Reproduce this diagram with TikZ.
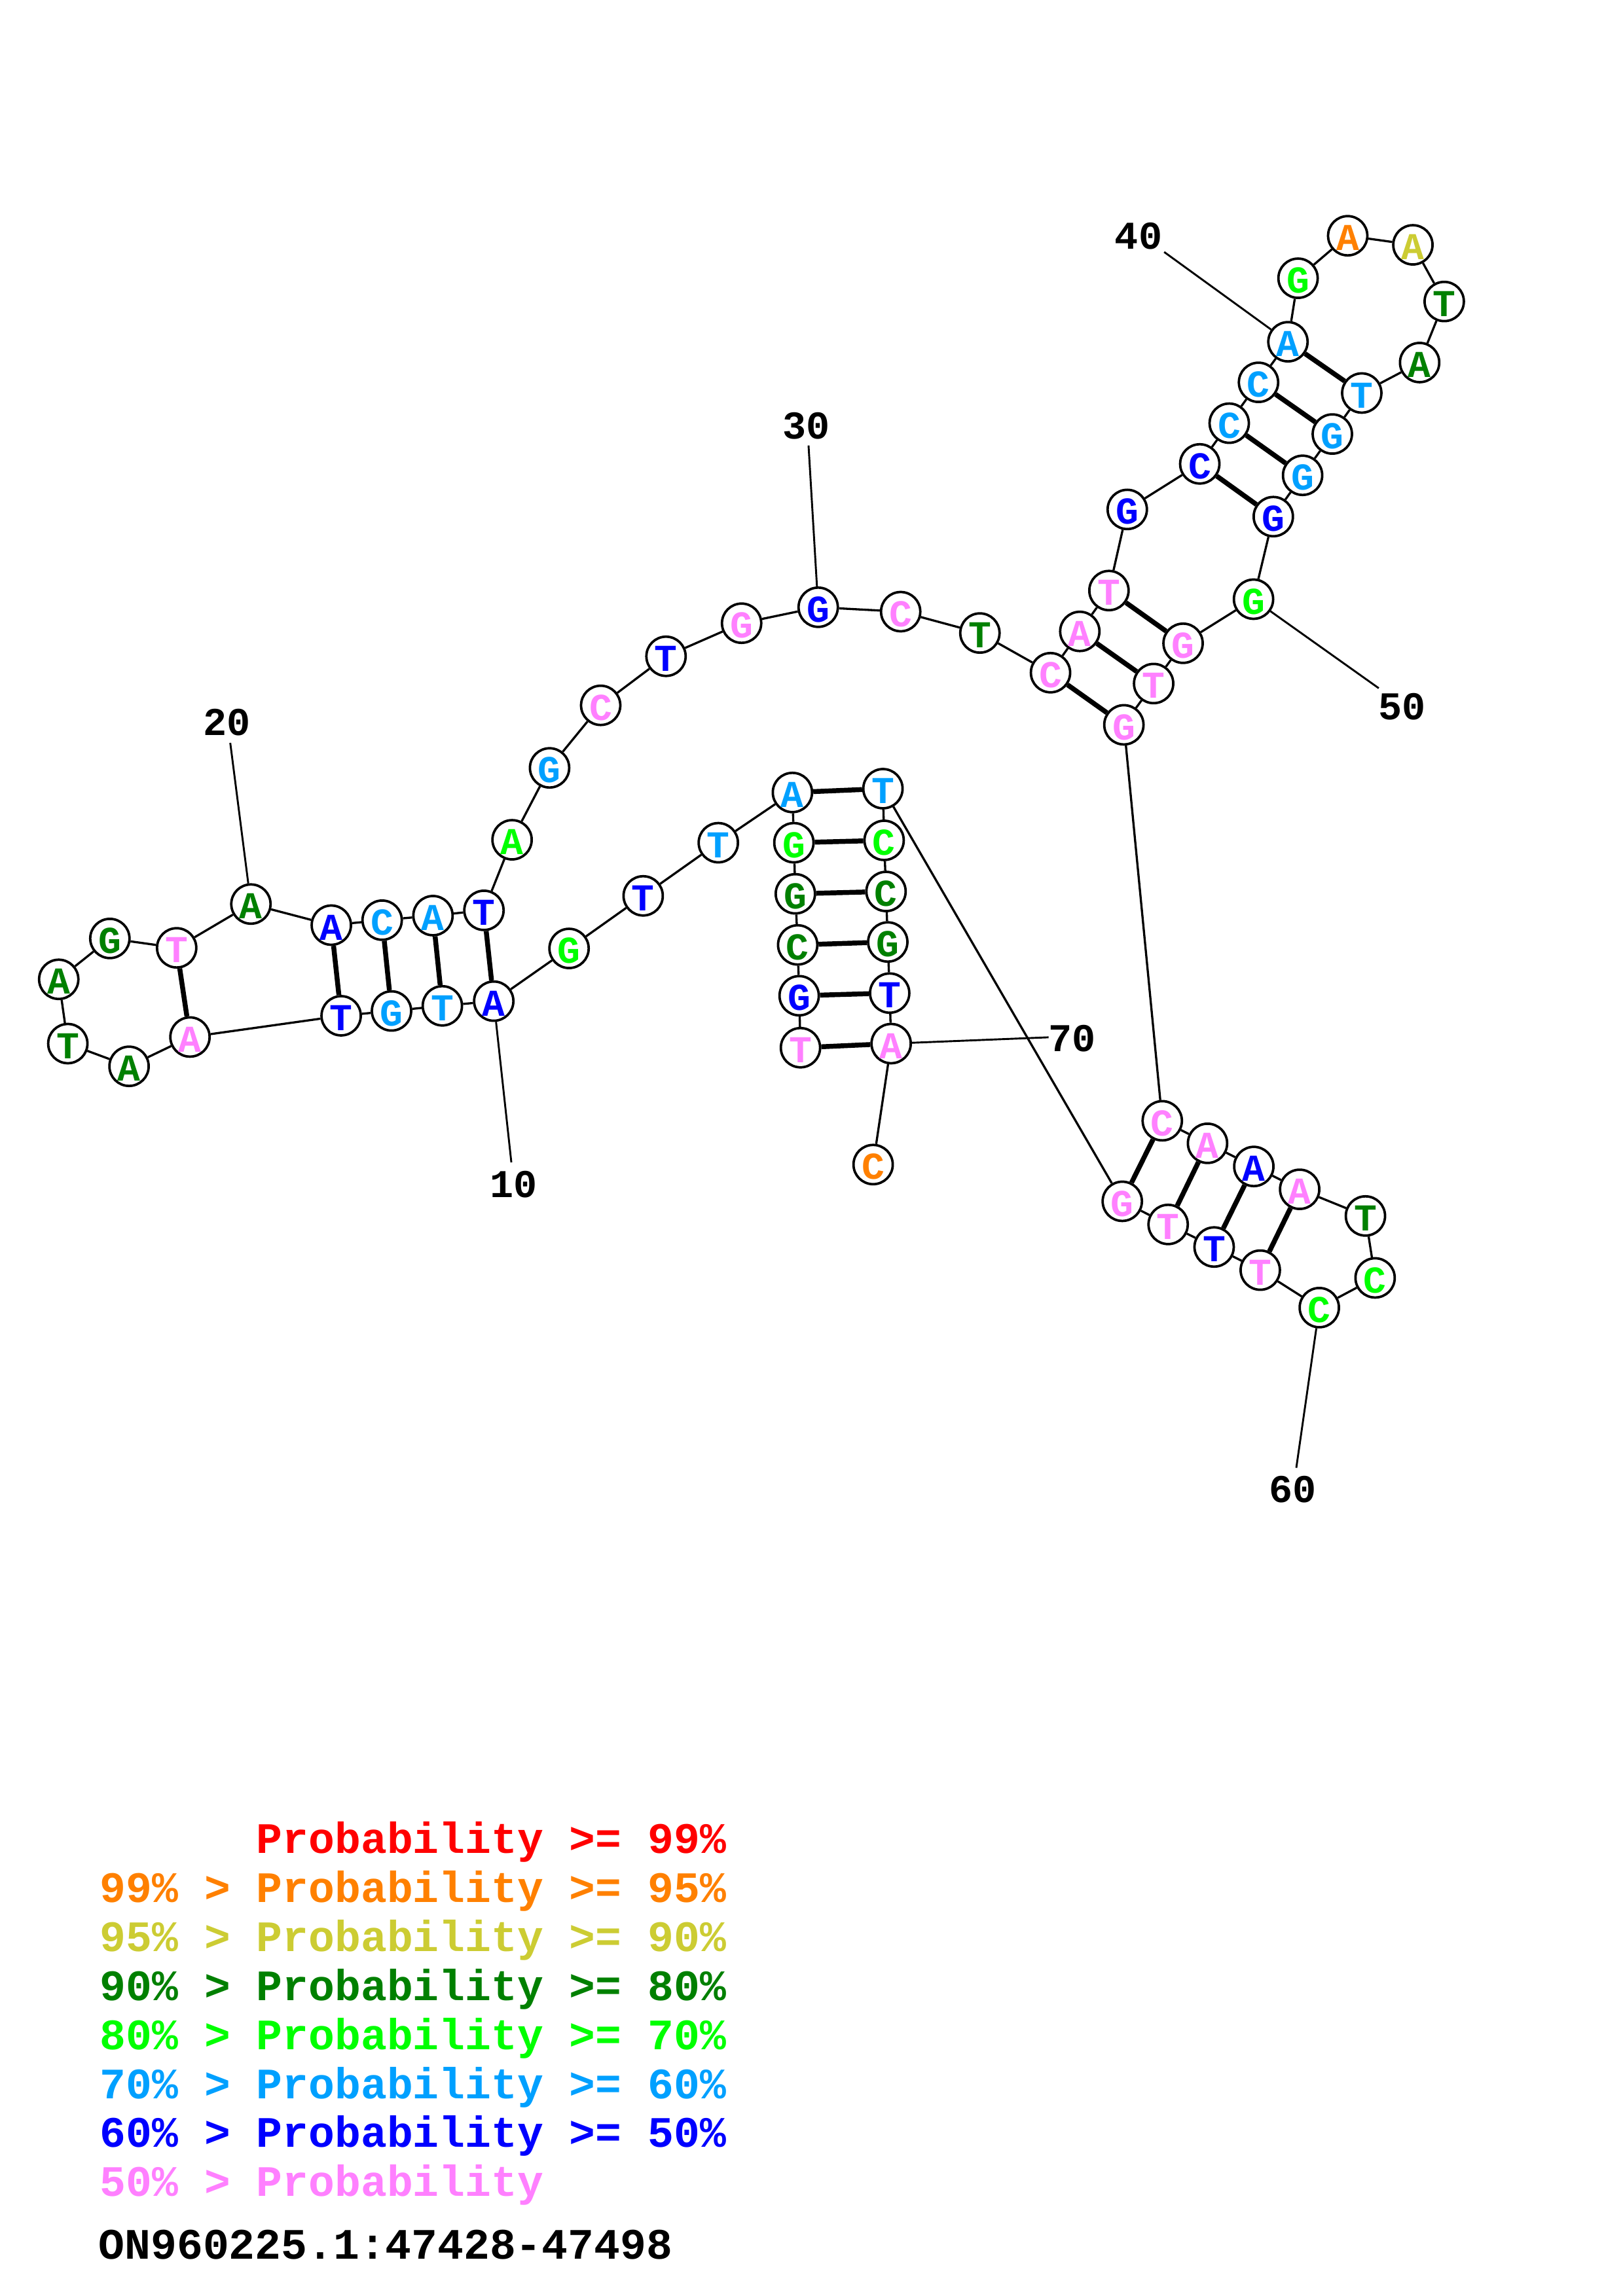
\documentclass[tikz,border=0pt]{standalone}
\usepackage{fontspec}
\setmonofont{Liberation Mono}
\definecolor{cRed}{HTML}{FF0000}
\definecolor{cOrange}{HTML}{FF8000}
\definecolor{cYellow}{HTML}{CCCC33}
\definecolor{cDkGreen}{HTML}{008000}
\definecolor{cGreen}{HTML}{00FF00}
\definecolor{cLtBlue}{HTML}{00A0FF}
\definecolor{cBlue}{HTML}{0000FF}
\definecolor{cPink}{HTML}{FF80FF}
\begin{document}
\begin{tikzpicture}[x=0.18953mm,y=-0.18953mm,
  nt/.style={circle,draw=black,line width=0.9pt,fill=white,minimum size=5.08mm,inner sep=0pt,
    text height=10.9pt,text depth=0pt,font=\fontsize{14}{14}\selectfont\ttfamily\bfseries},
  bb/.style={line width=0.8pt},
  bp/.style={line width=1.8pt},
  tick/.style={line width=0.7pt},
  num/.style={inner sep=0pt,font=\fontsize{14.5}{14.5}\selectfont\ttfamily\bfseries},
  leg/.style={anchor=base west,inner sep=0pt,font=\fontsize{16}{16}\selectfont\ttfamily\bfseries}]
\useasboundingbox (0,0) rectangle (1108,1568);
% nucleotides
\node[nt,text=cPink]    (n1)  at (546.5,715.5) {T};
\node[nt,text=cBlue]    (n2)  at (545.6,680.0) {G};
\node[nt,text=cDkGreen] (n3)  at (544.6,645.3) {C};
\node[nt,text=cDkGreen] (n4)  at (543.0,610.4) {G};
\node[nt,text=cGreen]   (n5)  at (542.0,575.5) {G};
\node[nt,text=cLtBlue]  (n6)  at (541.0,541.2) {A};
\node[nt,text=cLtBlue]  (n7)  at (490.4,575.5) {T};
\node[nt,text=cBlue]    (n8)  at (439.1,611.8) {T};
\node[nt,text=cGreen]   (n9)  at (388.5,647.7) {G};
\node[nt,text=cBlue]    (n10) at (337.1,683.7) {A};
\node[nt,text=cLtBlue]  (n11) at (302.0,686.9) {T};
\node[nt,text=cLtBlue]  (n12) at (267.3,690.4) {G};
\node[nt,text=cBlue]    (n13) at (232.9,693.7) {T};
\node[nt,text=cPink]    (n14) at (129.7,708.2) {A};
\node[nt,text=cDkGreen] (n15) at (88.1,728.2) {A};
\node[nt,text=cDkGreen] (n16) at (46.3,712.7) {T};
\node[nt,text=cDkGreen] (n17) at (40.1,668.8) {A};
\node[nt,text=cDkGreen] (n18) at (75.0,640.9) {G};
\node[nt,text=cPink]    (n19) at (120.6,647.3) {T};
\node[nt,text=cDkGreen] (n20) at (171.3,617.4) {A};
\node[nt,text=cBlue]    (n21) at (226.2,631.8) {A};
\node[nt,text=cLtBlue]  (n22) at (260.9,628.4) {C};
\node[nt,text=cLtBlue]  (n23) at (295.6,625.3) {A};
\node[nt,text=cBlue]    (n24) at (330.4,621.7) {T};
\node[nt,text=cGreen]   (n25) at (349.6,573.5) {A};
\node[nt,text=cLtBlue]  (n26) at (375.2,524.4) {G};
\node[nt,text=cPink]    (n27) at (410.1,481.7) {C};
\node[nt,text=cBlue]    (n28) at (454.7,448.2) {T};
\node[nt,text=cPink]    (n29) at (506.3,425.6) {G};
\node[nt,text=cBlue]    (n30) at (558.6,414.7) {G};
\node[nt,text=cPink]    (n31) at (614.9,417.7) {C};
\node[nt,text=cDkGreen] (n32) at (669.0,432.3) {T};
\node[nt,text=cPink]    (n33) at (717.2,459.4) {C};
\node[nt,text=cPink]    (n34) at (737.2,431.2) {A};
\node[nt,text=cPink]    (n35) at (757.1,403.3) {T};
\node[nt,text=cBlue]    (n36) at (769.6,347.9) {G};
\node[nt,text=cBlue]    (n37) at (819.1,316.8) {C};
\node[nt,text=cLtBlue]  (n38) at (839.2,289.0) {C};
\node[nt,text=cLtBlue]  (n39) at (859.2,261.1) {C};
\node[nt,text=cLtBlue]  (n40) at (879.3,233.4) {A};
\node[nt,text=cGreen]   (n41) at (886.2,190.0) {G};
\node[nt,text=cOrange]  (n42) at (920.1,161.0) {A};
\node[nt,text=cYellow]  (n43) at (964.6,167.2) {A};
\node[nt,text=cDkGreen] (n44) at (986.0,205.9) {T};
\node[nt,text=cDkGreen] (n45) at (969.2,247.6) {A};
\node[nt,text=cLtBlue]  (n46) at (929.7,268.4) {T};
\node[nt,text=cLtBlue]  (n47) at (909.6,296.4) {G};
\node[nt,text=cLtBlue]  (n48) at (889.3,324.6) {G};
\node[nt,text=cBlue]    (n49) at (869.3,352.8) {G};
\node[nt,text=cGreen]   (n50) at (855.8,409.2) {G};
\node[nt,text=cPink]    (n51) at (807.7,439.3) {G};
\node[nt,text=cPink]    (n52) at (787.6,466.8) {T};
\node[nt,text=cPink]    (n53) at (767.3,495.0) {G};
\node[nt,text=cPink]    (n54) at (793.5,765.4) {C};
\node[nt,text=cPink]    (n55) at (824.4,780.8) {A};
\node[nt,text=cBlue]    (n56) at (856.0,796.6) {A};
\node[nt,text=cPink]    (n57) at (887.3,812.2) {A};
\node[nt,text=cDkGreen] (n58) at (932.2,830.4) {T};
\node[nt,text=cGreen]   (n59) at (938.8,872.7) {C};
\node[nt,text=cGreen]   (n60) at (900.7,893.0) {C};
\node[nt,text=cPink]    (n61) at (860.4,867.4) {T};
\node[nt,text=cBlue]    (n62) at (828.9,851.6) {T};
\node[nt,text=cPink]    (n63) at (797.5,836.2) {T};
\node[nt,text=cPink]    (n64) at (766.2,820.4) {G};
\node[nt,text=cLtBlue]  (n65) at (602.8,538.6) {T};
\node[nt,text=cGreen]   (n66) at (603.6,573.9) {C};
\node[nt,text=cDkGreen] (n67) at (604.9,608.8) {C};
\node[nt,text=cDkGreen] (n68) at (606.1,643.3) {G};
\node[nt,text=cBlue]    (n69) at (607.4,678.2) {T};
\node[nt,text=cPink]    (n70) at (608.4,712.7) {A};
\node[nt,text=cOrange]  (n71) at (596.1,795.3) {C};
% backbone
\foreach \i [evaluate=\i as \j using int(\i+1)] in {1,...,70}
  {\draw[bb] (n\i) -- (n\j);}
% base pairs
\foreach \a/\b in {1/70,2/69,3/68,4/67,5/66,6/65,10/24,11/23,12/22,13/21,14/19,
  33/53,34/52,35/51,37/49,38/48,39/47,40/46,54/64,55/63,56/62,57/61}
  {\draw[bp] (n\a) -- (n\b);}
% position labels
\node[num] (l10) at (350.5,808.8) {10};
\node[num] (l20) at (154.9,493.4) {20};
\node[num] (l30) at (550.5,290.9) {30};
\node[num] (l40) at (777.3,161.3) {40};
\node[num] (l50) at (957.3,482.7) {50};
\node[num] (l60) at (882.7,1017.2) {60};
\node[num] (l70) at (731.9,709.2) {70};
\coordinate (t10) at (349.1,793.8);
\coordinate (t20) at (157.2,507.3);
\coordinate (t30) at (552.0,304.2);
\coordinate (t40) at (794.8,172.1);
\coordinate (t50) at (941.3,470.0);
\coordinate (t60) at (885.0,1002.4);
\coordinate (t70) at (715.9,708.4);
\foreach \k in {10,20,30,40,50,60,70}
  {\draw[tick] (n\k) -- (t\k);}
% legend
\node[leg,text=cRed]     (g1) at (68,1265.8) {\phantom{99\% > }Probability >= 99\%};
\node[leg,text=cOrange]  (g2) at (68,1299.3) {99\% > Probability >= 95\%};
\node[leg,text=cYellow]  (g3) at (68,1332.7) {95\% > Probability >= 90\%};
\node[leg,text=cDkGreen] (g4) at (68,1366.2) {90\% > Probability >= 80\%};
\node[leg,text=cGreen]   (g5) at (68,1399.6) {80\% > Probability >= 70\%};
\node[leg,text=cLtBlue]  (g6) at (68,1433.1) {70\% > Probability >= 60\%};
\node[leg,text=cBlue]    (g7) at (68,1466.5) {60\% > Probability >= 50\%};
\node[leg,text=cPink]    (g8) at (68,1500.0) {50\% > Probability};
\node[leg,text=black]    (g9) at (67,1542.7) {ON960225.1:47428-47498};
\end{tikzpicture}
\end{document}
